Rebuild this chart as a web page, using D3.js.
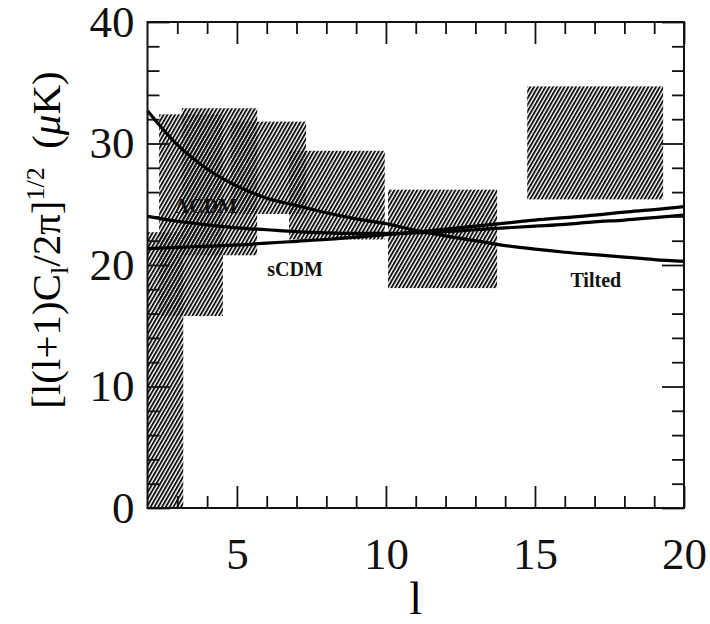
<!DOCTYPE html>
<html>
<head>
<meta charset="utf-8">
<script src="https://cdn.jsdelivr.net/npm/d3@7"></script>
<style>
  body { margin: 0; background: #fff; }
  svg { display: block; }
  .tick text { font-family: "Liberation Serif", serif; font-size: 45px; fill: #111; }
  .model-label { font-family: "Liberation Serif", serif; font-weight: bold; font-size: 20px; fill: #111; }
</style>
</head>
<body>
<script>
// band-power boxes: multipole range and temperature range (muK)
const bandLo = [2.0, 2.39, 3.15, 4.8, 6.75, 10.07, 14.74]
const bandHi = [3.2, 4.53, 5.68, 7.32, 9.96, 13.73, 19.3]
const tempLo = [0, 15.8, 20.8, 24.2, 22.1, 18.1, 25.4]
const tempHi = [22.7, 32.4, 32.9, 31.8, 29.4, 26.2, 34.7]

// model curves, sampled at integer l
const ell = [2, 3, 4, 5, 6, 7, 8, 9, 10, 11, 12, 13, 14, 15, 16, 17, 18, 19, 20]
const tilted = [32.7, 29.9, 27.9, 26.5, 25.5, 24.9, 24.3, 23.8, 23.4, 22.85, 22.4, 22.0, 21.6, 21.3, 21.05, 20.85, 20.65, 20.45, 20.3]
const lcdm = [24.0, 23.6, 23.3, 23.05, 22.9, 22.75, 22.65, 22.6, 22.6, 22.65, 22.75, 22.9, 23.05, 23.2, 23.35, 23.55, 23.7, 23.9, 24.1]
const scdm = [21.35, 21.45, 21.55, 21.65, 21.8, 21.95, 22.1, 22.3, 22.5, 22.7, 22.95, 23.2, 23.45, 23.7, 23.9, 24.1, 24.35, 24.55, 24.8]

// labels for the curves: [text, l, value at baseline]
const modelLabels = [["\u039BCDM", 3.96, 24.26], ["sCDM", 6.95, 19.08], ["Tilted", 17.04, 18.2]]

// ticks
const xMajor = [5, 10, 15, 20]
const xMinor = [3, 4, 6, 7, 8, 9, 11, 12, 13, 14, 16, 17, 18, 19]
const yMajor = [0, 10, 20, 30, 40]
const yMinor = [2, 4, 6, 8, 12, 14, 16, 18, 22, 24, 26, 28, 32, 34, 36, 38]

const outerWidth = 710, outerHeight = 624
const margin = {left: 147.5, top: 22, right: 26, bottom: 116}
const width = outerWidth - margin.left - margin.right
const height = outerHeight - margin.top - margin.bottom

const svg = d3.select("body").append("svg")
    .attr("width", outerWidth)
    .attr("height", outerHeight)

// diagonal hatch
const defs = svg.append("defs")
const pat = defs.append("pattern")
    .attr("id", "hatch")
    .attr("patternUnits", "userSpaceOnUse")
    .attr("width", 3.3).attr("height", 10)
    .attr("patternTransform", "rotate(30)")
pat.append("rect").attr("width", 1.9).attr("height", 10).attr("fill", "#111")

const canvas = svg.append("g")
    .attr("transform", `translate(${margin.left}, ${margin.top})`)

const x = d3.scaleLinear().domain([2, 20]).range([0, width])
const y = d3.scaleLinear().domain([0, 40]).range([height, 0])

// boxes
canvas.selectAll(".band")
    .data(bandLo.map((d, i) => ({lo: d, hi: bandHi[i], tlo: tempLo[i], thi: tempHi[i]})))
    .join("rect")
    .attr("class", "band")
    .attr("x", d => x(d.lo))
    .attr("width", d => x(d.hi) - x(d.lo))
    .attr("y", d => y(d.thi))
    .attr("height", d => y(d.tlo) - y(d.thi))
    .attr("fill", "url(#hatch)")

// curves
const line = d3.line()
    .x((d, i) => x(ell[i]))
    .y(d => y(d))
    .curve(d3.curveMonotoneX)

canvas.selectAll(".model")
    .data([tilted, lcdm, scdm])
    .join("path")
    .attr("class", "model")
    .attr("d", line)
    .attr("fill", "none")
    .attr("stroke", "#000")
    .attr("stroke-width", 3.2)

canvas.selectAll(".model-label")
    .data(modelLabels)
    .join("text")
    .attr("class", "model-label")
    .attr("x", d => x(d[1]))
    .attr("y", d => y(d[2]))
    .attr("text-anchor", "middle")
    .text(d => d[0])

// axes, ticks point inward
const majorLen = 22, minorLen = 12
const noLabel = () => ""

canvas.append("g").attr("transform", `translate(0, ${height})`)
    .call(d3.axisBottom(x).tickValues(xMajor).tickSizeInner(-majorLen).tickSizeOuter(0).tickPadding(29).tickFormat(d3.format("d")))
canvas.append("g").attr("transform", `translate(0, ${height})`)
    .call(d3.axisBottom(x).tickValues(xMinor).tickSizeInner(-minorLen).tickSizeOuter(0).tickFormat(noLabel))
canvas.append("g")
    .call(d3.axisTop(x).tickValues(xMajor).tickSizeInner(-majorLen).tickSizeOuter(0).tickFormat(noLabel))
canvas.append("g")
    .call(d3.axisTop(x).tickValues(xMinor).tickSizeInner(-minorLen).tickSizeOuter(0).tickFormat(noLabel))

canvas.append("g")
    .call(d3.axisLeft(y).tickValues(yMajor).tickSizeInner(-majorLen).tickSizeOuter(0).tickPadding(13).tickFormat(d3.format("d")))
canvas.append("g")
    .call(d3.axisLeft(y).tickValues(yMinor).tickSizeInner(-minorLen).tickSizeOuter(0).tickFormat(noLabel))
canvas.append("g").attr("transform", `translate(${width}, 0)`)
    .call(d3.axisRight(y).tickValues(yMajor).tickSizeInner(-majorLen).tickSizeOuter(0).tickFormat(noLabel))
canvas.append("g").attr("transform", `translate(${width}, 0)`)
    .call(d3.axisRight(y).tickValues(yMinor).tickSizeInner(-minorLen).tickSizeOuter(0).tickFormat(noLabel))

canvas.selectAll(".domain").remove()
canvas.selectAll(".tick line").attr("stroke", "#111").attr("stroke-width", 1.8)

// frame
canvas.append("rect")
    .attr("width", width).attr("height", height)
    .attr("fill", "none").attr("stroke", "#111").attr("stroke-width", 2)

// axis titles
svg.append("text")
    .attr("x", margin.left + width / 2)
    .attr("y", 614)
    .attr("text-anchor", "middle")
    .style("font-family", "Liberation Serif, serif")
    .style("font-size", "46px")
    .text("l")

const yTitle = svg.append("text")
    .attr("transform", `translate(60, 240) rotate(-90)`)
    .attr("text-anchor", "middle")
    .style("font-family", "Liberation Serif, serif")
    .style("font-size", "41px")
yTitle.append("tspan").text("[l(l+1)C")
yTitle.append("tspan").attr("dy", 8).style("font-size", "26px").text("l")
yTitle.append("tspan").attr("dy", -8).text("/2\u03C0]")
yTitle.append("tspan").attr("dy", -16).style("font-size", "26px").text("1/2")
yTitle.append("tspan").attr("dy", 16).text("\u2009 (")
yTitle.append("tspan").style("font-style", "italic").text("\u03BC")
yTitle.append("tspan").text("K)")
</script>
</body>
</html>
